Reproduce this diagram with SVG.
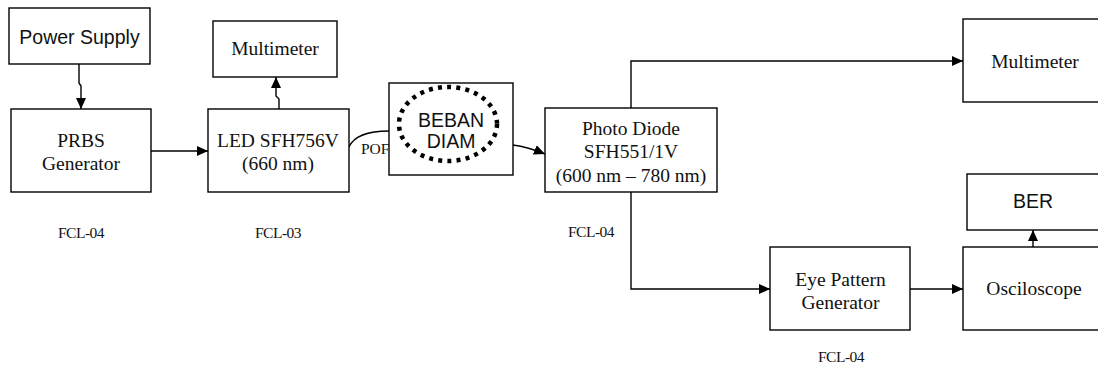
<svg xmlns="http://www.w3.org/2000/svg" width="1098" height="367" viewBox="0 0 1098 367">
<defs>
<marker id="ah" markerUnits="userSpaceOnUse" markerWidth="12" markerHeight="11" refX="11" refY="5" orient="auto">
<path d="M0,0 L11,5 L0,10 z" fill="#000"/>
</marker>
<style>
rect.box{fill:#fff;stroke:#000;stroke-width:1.4}
.c{fill:none;stroke:#000;stroke-width:1.4}
.a{marker-end:url(#ah)}
.s{font-family:"Liberation Serif","Times New Roman",serif;font-size:19.5px;fill:#111;text-anchor:middle}
.ss{font-family:"Liberation Sans",Arial,sans-serif;font-size:19.5px;fill:#111;text-anchor:middle}
.f{font-family:"Liberation Serif","Times New Roman",serif;font-size:15.5px;fill:#111;text-anchor:middle;letter-spacing:-0.5px}
</style>
</defs>
<rect width="1098" height="367" fill="#fff"/>
<g id="connectors">
<path class="c a" d="M79,64 V83 L81,86 V109"/>
<path class="c a" d="M151,151 H208"/>
<path class="c a" d="M279,109 V99 L276,96 V77"/>
<path class="c" d="M349,147 C354,136 368,131 389,131"/>
<text x="361" y="154" style="font-family:'Liberation Serif','Times New Roman',serif;font-size:15.5px;fill:#111">POF</text>
<path class="c a" d="M513,145 Q528,147 545,154"/>
<path class="c a" d="M631,108 V61 H963"/>
<path class="c a" d="M631,192 V289 H770"/>
<path class="c a" d="M910,289 H963"/>
<path class="c a" d="M1033,247 V230"/>
</g>
<g id="power-supply">
<rect class="box" x="9" y="8" width="141" height="56"/>
<text class="ss" x="79.5" y="43.5">Power Supply</text>
</g>
<g id="prbs-generator">
<rect class="box" x="11" y="109" width="140" height="83"/>
<text class="s" x="81" y="147">PRBS</text>
<text class="s" x="81" y="170">Generator</text>
</g>
<g id="multimeter-1">
<rect class="box" x="213" y="21" width="124" height="56"/>
<text class="s" x="275" y="55">Multimeter</text>
</g>
<g id="led">
<rect class="box" x="208" y="109" width="141" height="83"/>
<text class="s" x="278" y="147">LED SFH756V</text>
<text class="s" x="278" y="170">(660 nm)</text>
</g>
<g id="beban-diam">
<rect class="box" x="389" y="83" width="124" height="92"/>
<ellipse cx="448" cy="124" rx="49" ry="37" fill="none" stroke="#000" stroke-width="4.5" stroke-dasharray="4 5.2"/>
<text class="ss" x="451" y="127">BEBAN</text>
<text class="ss" x="451" y="148">DIAM</text>
</g>
<g id="photo-diode">
<rect class="box" x="545" y="108" width="172" height="84"/>
<text class="s" x="631" y="135">Photo Diode</text>
<text class="s" x="631" y="158">SFH551/1V</text>
<text class="s" x="631" y="182">(600 nm – 780 nm)</text>
</g>
<g id="multimeter-2">
<rect class="box" x="963" y="19" width="150" height="83"/>
<text class="s" x="1035" y="68">Multimeter</text>
</g>
<g id="ber">
<rect class="box" x="967" y="174" width="146" height="56"/>
<text class="ss" x="1033" y="208">BER</text>
</g>
<g id="eye-pattern-generator">
<rect class="box" x="770" y="247" width="140" height="83"/>
<text class="s" x="840.5" y="286">Eye Pattern</text>
<text class="s" x="840.5" y="309">Generator</text>
</g>
<g id="osciloscope">
<rect class="box" x="963" y="247" width="150" height="83"/>
<text class="s" x="1034" y="295">Osciloscope</text>
</g>
<g id="labels">
<text class="f" x="81" y="238">FCL-04</text>
<text class="f" x="278" y="238">FCL-03</text>
<text class="f" x="591" y="237">FCL-04</text>
<text class="f" x="841" y="362">FCL-04</text>
</g>
</svg>
